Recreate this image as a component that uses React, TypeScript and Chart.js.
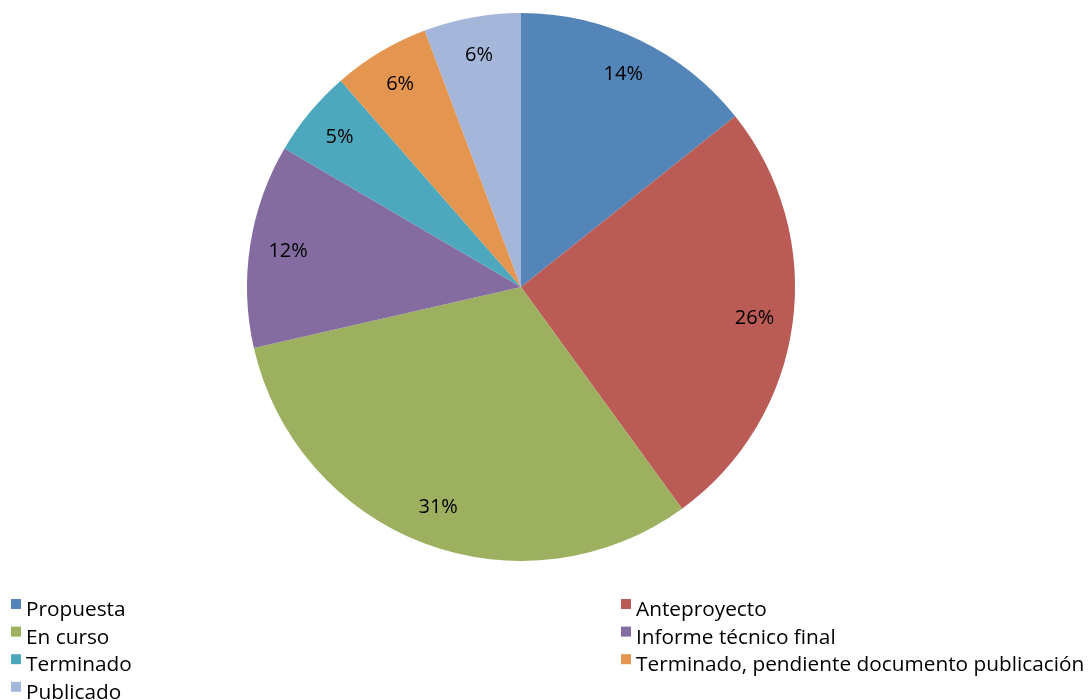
import React, { useEffect, useRef } from "react";
import { Chart, registerables } from "chart.js";

Chart.register(...registerables);

const categories = [
  "Propuesta",
  "Anteproyecto",
  "En curso",
  "Informe técnico final",
  "Terminado",
  "Terminado, pendiente documento publicación",
  "Publicado",
];
const counts = [25, 45, 55, 21, 9, 10, 10];
const colors = ["#5485B8", "#BA5C55", "#9CB060", "#846BA0", "#4DA7BD", "#E4954F", "#A4B6D9"];

const FONT = '"Open Sans", "Noto Sans", sans-serif';

const labelPlugin = {
  id: "sliceLabels",
  afterDatasetsDraw(chart: any) {
    const ctx = chart.ctx;
    const meta = chart.getDatasetMeta(0);
    const data = chart.data.datasets[0].data as number[];
    const total = data.reduce((a, b) => a + b, 0);
    ctx.save();
    ctx.font = `20px ${FONT}`;
    ctx.fillStyle = "#000";
    ctx.textAlign = "center";
    ctx.textBaseline = "middle";
    meta.data.forEach((arc: any, i: number) => {
      const p = arc.getProps(["x", "y", "startAngle", "endAngle", "outerRadius"], true);
      const mid = (p.startAngle + p.endAngle) / 2;
      const r = p.outerRadius * 0.86;
      const pct = Math.round((data[i] / total) * 100) + "%";
      ctx.fillText(pct, p.x + Math.cos(mid) * r, p.y + Math.sin(mid) * r);
    });
    ctx.restore();
  },
};

const legendPlugin = {
  id: "customLegend",
  afterDraw(chart: any) {
    const ctx = chart.ctx;
    ctx.save();
    ctx.font = `20.8px ${FONT}`;
    ctx.textBaseline = "alphabetic";
    ctx.textAlign = "left";
    const colX = [11, 621];
    const rowY0 = 599;
    const rowH = 27.6;
    categories.forEach((c, i) => {
      const col = i % 2;
      const row = Math.floor(i / 2);
      const x = colX[col];
      const y = rowY0 + row * rowH;
      ctx.fillStyle = colors[i];
      ctx.fillRect(x, y, 10, 10);
      ctx.fillStyle = "#000";
      ctx.fillText(c, x + 15, y + 17);
    });
    ctx.restore();
  },
};

export default function App() {
  const ref = useRef<HTMLCanvasElement>(null);
  useEffect(() => {
    document.body.style.margin = "0";
    const chart = new Chart(ref.current!, {
      type: "pie",
      data: {
        labels: categories,
        datasets: [
          {
            data: counts,
            backgroundColor: colors,
            borderWidth: 0,
          },
        ],
      },
      options: {
        responsive: false,
        animation: false,
        layout: { padding: { top: 13, bottom: 139, left: 0, right: 47 } },
        plugins: { legend: { display: false }, tooltip: { enabled: false } },
      },
      plugins: [labelPlugin, legendPlugin],
    });
    return () => chart.destroy();
  }, []);
  return (
    <div style={{ width: 1089, height: 700, background: "#fff" }}>
      <canvas ref={ref} width={1089} height={700} style={{ display: "block" }} />
    </div>
  );
}
